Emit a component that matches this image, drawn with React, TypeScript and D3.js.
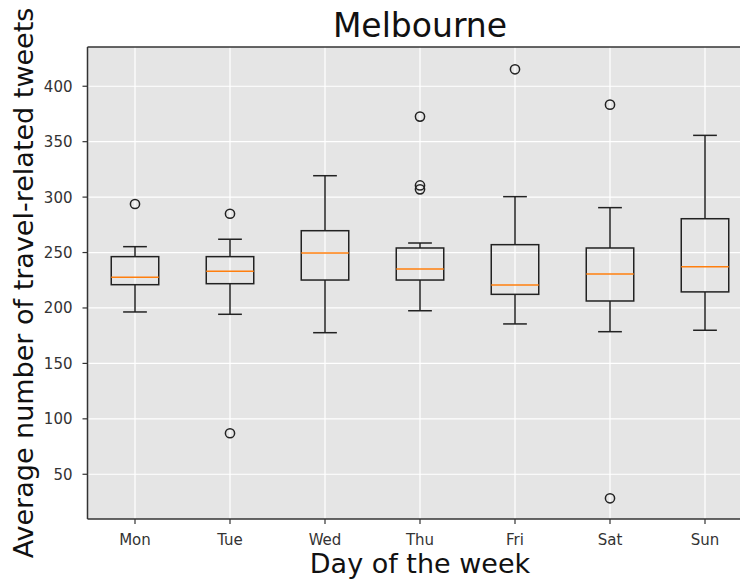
import React from "react";
import * as d3 from "d3";

const days = ["Mon", "Tue", "Wed", "Thu", "Fri", "Sat", "Sun"];
const whiskerLow = [196.4, 194.3, 177.7, 197.5, 185.6, 178.6, 179.9];
const q1 = [221, 221.9, 225.2, 225.2, 212.3, 206.3, 214.5];
const medians = [227.7, 233.1, 249.6, 235.2, 220.7, 230.7, 237.2];
const q3 = [246.3, 246.3, 269.7, 254.1, 257.1, 254.1, 280.5];
const whiskerHigh = [255.3, 262, 319.3, 258.6, 300.4, 290.5, 355.7];
const outliers: number[][] = [[293.8], [285, 87], [], [372.6, 310.5, 307], [415.3], [383.4, 28.3], []];
const yTicks = [50, 100, 150, 200, 250, 300, 350, 400];

const W = 740, H = 581;
const L = 87.5, R = 752.5, T = 47, B = 519;
const FONT = "DejaVu Sans, sans-serif";

export default function App() {
  const x = d3.scaleLinear().domain([0.5, 7.5]).range([L, R]);
  const y = d3.scaleLinear().domain([9.65, 435.4]).range([B, T]);
  const step = x(2) - x(1);
  const boxW = step * 0.5;
  const capW = step * 0.25;
  const ink = "#222";

  return (
    <svg width={W} height={H} style={{ position: "absolute", left: 0, top: 0, background: "#fff" }}>
      <rect x={L} y={T} width={R - L} height={B - T} fill="#E5E5E5" />
      {yTicks.map((t) => (
        <line key={"gy" + t} x1={L} x2={R} y1={y(t)} y2={y(t)} stroke="#fff" strokeWidth={1.2} />
      ))}
      {days.map((d, i) => (
        <line key={"gx" + d} x1={x(i + 1)} x2={x(i + 1)} y1={T} y2={B} stroke="#fff" strokeWidth={1.2} />
      ))}
      {days.map((d, i) => {
        const cx = x(i + 1);
        return (
          <g key={"box" + d} fill="none" stroke={ink} strokeWidth={1.5}>
            <line x1={cx} x2={cx} y1={y(q1[i])} y2={y(whiskerLow[i])} />
            <line x1={cx} x2={cx} y1={y(q3[i])} y2={y(whiskerHigh[i])} />
            <line x1={cx - capW / 2} x2={cx + capW / 2} y1={y(whiskerLow[i])} y2={y(whiskerLow[i])} />
            <line x1={cx - capW / 2} x2={cx + capW / 2} y1={y(whiskerHigh[i])} y2={y(whiskerHigh[i])} />
            <rect x={cx - boxW / 2} y={y(q3[i])} width={boxW} height={y(q1[i]) - y(q3[i])} />
            <line x1={cx - boxW / 2} x2={cx + boxW / 2} y1={y(medians[i])} y2={y(medians[i])} stroke="#FF7F0E" />
            {outliers[i].map((o, k) => (
              <circle key={k} cx={cx} cy={y(o)} r={4.6} />
            ))}
          </g>
        );
      })}
      {/* spines */}
      <line x1={L} x2={L} y1={T} y2={B} stroke="#333" strokeWidth={1.5} />
      <line x1={L} x2={R} y1={T} y2={T} stroke="#333" strokeWidth={1.5} />
      <line x1={L} x2={R} y1={B} y2={B} stroke="#333" strokeWidth={1.5} />
      <line x1={R} x2={R} y1={T} y2={B} stroke="#333" strokeWidth={1.5} />
      {yTicks.map((t) => (
        <g key={"yt" + t}>
          <line x1={L - 5} x2={L} y1={y(t)} y2={y(t)} stroke="#333" strokeWidth={1.2} />
          <text x={L - 15} y={y(t)} dy="0.36em" textAnchor="end" fontFamily={FONT} fontSize={15} fill="#333">
            {t}
          </text>
        </g>
      ))}
      {days.map((d, i) => (
        <g key={"xt" + d}>
          <line x1={x(i + 1)} x2={x(i + 1)} y1={B} y2={B + 5} stroke="#333" strokeWidth={1.2} />
          <text x={x(i + 1)} y={545} textAnchor="middle" fontFamily={FONT} fontSize={15} fill="#333">
            {d}
          </text>
        </g>
      ))}
      <text x={(L + R) / 2} y={36.5} textAnchor="middle" fontFamily={FONT} fontSize={33} fill="#111">
        Melbourne
      </text>
      <text x={(L + R) / 2} y={573} textAnchor="middle" fontFamily={FONT} fontSize={27} fill="#111">
        Day of the week
      </text>
      <text
        transform={`translate(33,${(T + B) / 2}) rotate(-90)`}
        textAnchor="middle"
        fontFamily={FONT}
        fontSize={27}
        fill="#111"
      >
        Average number of travel-related tweets
      </text>
    </svg>
  );
}
